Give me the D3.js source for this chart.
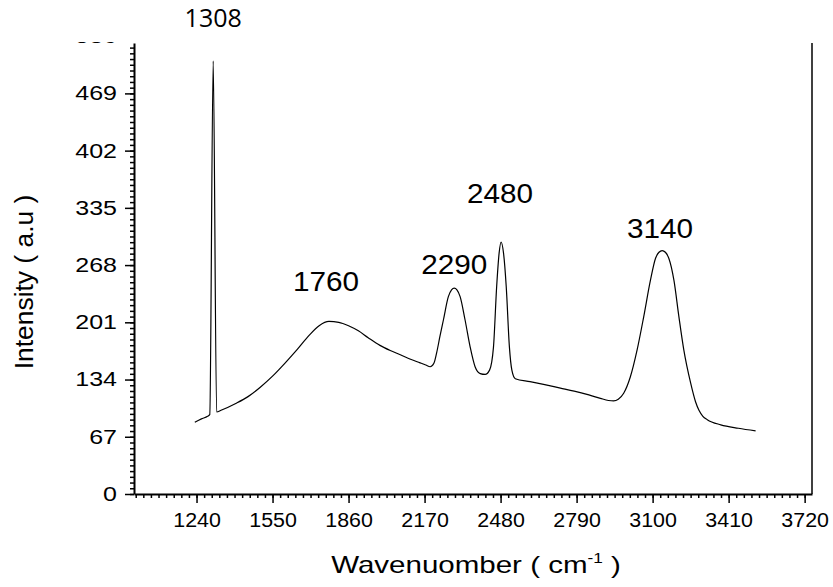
<!DOCTYPE html>
<html>
<head>
<meta charset="utf-8">
<script src="https://cdn.jsdelivr.net/npm/d3@7"></script>
<style>
  body { margin: 0; background: #fff; }
  svg { display: block; }
</style>
</head>
<body>
<div id="chart"></div>
<script>
// Spectrum (wavenumber, intensity)
let wavenumber = [1233, 1260, 1285, 1294, 1308, 1322, 1340, 1400, 1450, 1500, 1550, 1600, 1650, 1700, 1740,
    1780, 1820, 1860, 1900, 1940, 1988, 2030, 2071, 2110, 2152, 2175, 2193, 2208, 2219, 2233, 2247, 2267,
    2280, 2291, 2302, 2315, 2335, 2356, 2376, 2397, 2417, 2435, 2451, 2464, 2474, 2482, 2492, 2503, 2516,
    2526, 2540, 2600, 2660, 2724, 2780, 2840, 2887, 2920, 2941, 2960, 2982, 3009, 3037, 3064, 3091, 3112,
    3126, 3139, 3152, 3166, 3187, 3207, 3227, 3255, 3275, 3289, 3305, 3323, 3378, 3450, 3520];
let intensity = [84, 88, 91, 93, 507, 96, 98, 106, 114, 125, 138, 153, 169, 186, 197,
    202, 201, 197, 191, 183, 174, 168, 163, 158, 153.5, 151, 149, 153, 165, 185, 204, 231,
    239, 241, 239, 231, 204, 172, 149, 141, 140, 145, 172, 243, 282, 295, 282, 243, 172,
    145, 135, 131.5, 128, 124, 120.5, 116, 112, 109.5, 109, 111, 118, 137, 169, 208, 250, 276,
    283, 285, 283, 276, 250, 208, 169, 130, 108, 98, 91, 87, 81, 77, 74];

// Peak labels
let peakNames = ["1308", "1760", "2290", "2480", "3140"];
let peakLabelX = [1308, 1768, 2291, 2478, 3130];
let peakLabelY = [547, 238, 258, 341, 300];

// Tick labels
let xTicks = [1240, 1550, 1860, 2170, 2480, 2790, 3100, 3410, 3720];
let yTicks = [0, 67, 134, 201, 268, 335, 402, 469, 536];

let data = wavenumber.map((w, i) => ({ w: w, v: intensity[i] }));

let fullWidth = 833, fullHeight = 587;
let margin = { top: 43, right: 21, bottom: 93, left: 134 };
let width = fullWidth - margin.left - margin.right;
let height = fullHeight - margin.top - margin.bottom;

let svg = d3.select("#chart")
    .append("svg")
    .attr("width", fullWidth)
    .attr("height", fullHeight);

let x = d3.scaleLinear().domain([985, 3750]).range([0, width]);
let y = d3.scaleLinear().domain([0, 528]).range([height, 0]);

let font = "'Liberation Sans', Arial, sans-serif";

// clip the top label of the y axis like in the picture
svg.append("clipPath").attr("id", "yclip")
    .append("rect")
    .attr("x", -200).attr("y", -1)
    .attr("width", 400).attr("height", height + 40);

let g = svg.append("g")
    .attr("transform", `translate(${margin.left},${margin.top})`);

// Minor ticks
g.append("g")
    .attr("transform", `translate(0,${height})`)
    .call(d3.axisBottom(x)
        .tickValues(d3.range(1240 - 8 * 31, 3751, 31))
        .tickSize(4).tickFormat(""))
    .call(a => a.select(".domain").remove());

g.append("g")
    .call(d3.axisLeft(y)
        .tickValues(d3.range(0, 528, 6.7))
        .tickSize(4).tickFormat(""))
    .call(a => a.select(".domain").remove());

// X axis
let xAxis = g.append("g")
    .attr("transform", `translate(0,${height})`)
    .call(d3.axisBottom(x).tickValues(xTicks).tickFormat(d3.format("d"))
        .tickSize(9).tickPadding(10).tickSizeOuter(0));
xAxis.selectAll("text")
    .style("font-family", font)
    .style("font-size", "20px")
    .attr("fill", "#000")
    .attr("transform", "scale(1.07,1)");

// Y axis
let ySx = 1.25;
let yAxis = g.append("g")
    .attr("clip-path", "url(#yclip)")
    .call(d3.axisLeft(y).tickValues(yTicks).tickFormat(d3.format("d"))
        .tickSize(9).tickPadding(8).tickSizeOuter(0));
yAxis.selectAll("text")
    .style("font-family", font)
    .style("font-size", "20px")
    .attr("fill", "#000")
    .attr("x", -17 / ySx)
    .attr("transform", `scale(${ySx},1)`);

g.selectAll(".domain").attr("stroke", "#000").attr("stroke-width", 2);
g.selectAll(".tick line").attr("stroke", "#000").attr("stroke-width", 1.5);

// Right frame line
g.append("line")
    .attr("x1", width).attr("x2", width)
    .attr("y1", 0).attr("y2", height)
    .attr("stroke", "#000")
    .attr("stroke-width", 1.5);

// Spectrum line
let line = d3.line()
    .x(d => x(d.w))
    .y(d => y(d.v))
    .curve(d3.curveMonotoneX);

g.append("path")
    .datum(data)
    .attr("fill", "none")
    .attr("stroke", "#000")
    .attr("stroke-width", 1.2)
    .attr("d", line);

// Peak labels
peakNames.forEach((name, i) => {
    let px = x(peakLabelX[i]), py = y(peakLabelY[i]);
    g.append("text")
        .attr("transform", `translate(${px},${py}) scale(${i === 0 ? 1 : 1.1},1)`)
        .attr("text-anchor", "middle")
        .style("font-family", i === 0 ? "'Open Sans', sans-serif" : font)
        .style("font-size", i === 0 ? "25px" : "27px")
        .attr("fill", "#000")
        .text(name);
});

// Axis titles
let xt = svg.append("text")
    .attr("transform", "translate(476,573) scale(1.23,1)")
    .attr("text-anchor", "middle")
    .style("font-family", font)
    .style("font-size", "24px")
    .attr("fill", "#000");
xt.append("tspan").text("Wavenuomber ( cm");
xt.append("tspan").attr("dy", -10).style("font-size", "14px").text("-1");
xt.append("tspan").attr("dy", 10).text(" )");

svg.append("text")
    .attr("transform", "translate(33,282) rotate(-90) scale(1.2,1.2)")
    .attr("text-anchor", "middle")
    .style("font-family", font)
    .style("font-size", "22px")
    .attr("fill", "#000")
    .text("Intensity ( a.u )");
</script>
</body>
</html>
